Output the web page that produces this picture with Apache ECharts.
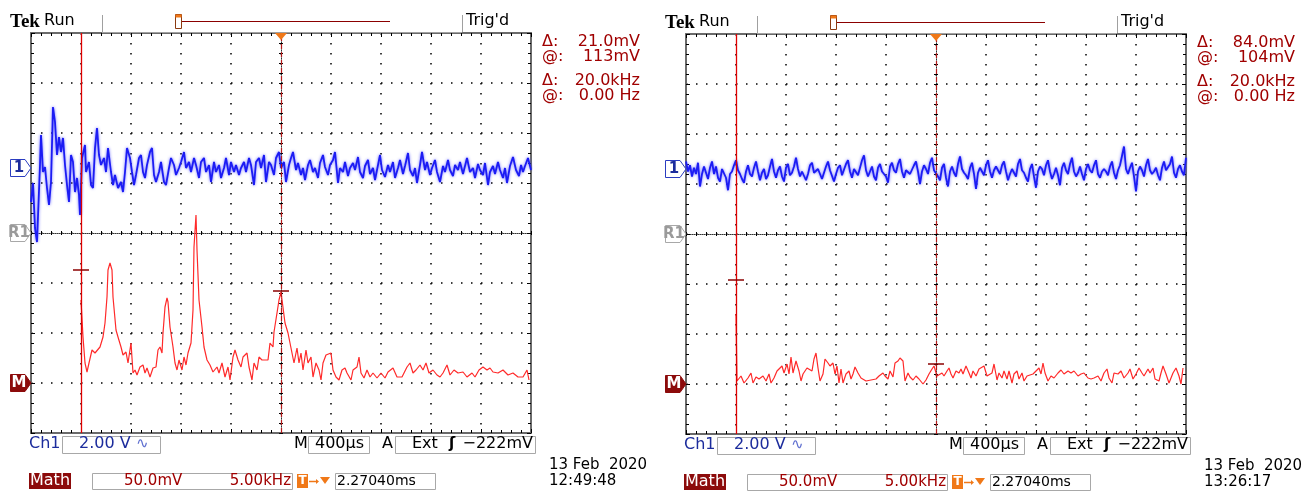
<!DOCTYPE html>
<html><head><meta charset="utf-8">
<script src="https://cdn.jsdelivr.net/npm/echarts@6/dist/echarts.min.js"></script>
<style>html,body{margin:0;padding:0;background:#fff}#c{width:1304px;height:493px}</style>
</head><body><div id="c"></div>
<script>
// ---------- DATA ----------
// Ch1 (2.00 V/div) left screen: [time µs, volts]
const blueLeft = [[0,-1.36],[16,-0.60],[32,-2.40],[48,-2.96],[72,0.12],[80,1.32],[96,-0.16],[112,0.04],[128,-0.80],[144,-1.48],[160,-0.56],[176,2.44],[192,1.84],[208,0.52],[224,1.24],[240,0.64],[256,1.20],[272,0.12],[288,-0.68],[304,-1.36],[320,0.52],[336,0.24],[352,-0.96],[368,-0.40],[384,-1.08],[392,-1.88],[408,0.40],[432,0.92],[440,-0.16],[464,0.24],[480,-0.68],[496,-0.80],[512,0.80],[528,1.60],[544,0.52],[560,0.12],[584,0.40],[600,-0.16],[616,0.80],[640,-0.16],[656,-0.68],[672,-0.28],[696,-0.80],[720,-0.56],[736,-0.96],[752,-0.16],[768,0.80],[792,0.40],[808,-0.16],[824,-0.68],[840,-0.28],[864,0.40],[880,0.52],[896,-0.16],[912,-0.40],[928,0.12],[952,0.64],[968,0.80],[984,-0.28],[1000,-0.56],[1024,-0.16],[1040,0.24],[1064,-0.56],[1080,-0.68],[1104,0.00],[1120,0.40],[1144,0.12],[1160,-0.28],[1184,0.00],[1200,0.24],[1224,0.64],[1240,0.00],[1264,0.24],[1280,-0.16],[1304,0.40],[1320,0.12],[1344,-0.40],[1360,0.24],[1384,0.40],[1400,-0.16],[1424,0.12],[1440,-0.56],[1464,0.24],[1480,-0.16],[1504,0.12],[1520,-0.40],[1544,0.00],[1560,0.40],[1584,-0.28],[1600,0.24],[1624,-0.16],[1640,0.12],[1664,-0.28],[1680,0.00],[1704,0.24],[1720,-0.16],[1744,0.40],[1760,0.12],[1784,-0.68],[1800,0.24],[1824,0.40],[1840,0.00],[1864,0.52],[1880,-0.56],[1904,0.24],[1920,0.12],[1944,-0.28],[1960,0.40],[1984,0.64],[2000,0.00],[2024,0.24],[2040,-0.56],[2064,0.12],[2080,0.40],[2096,0.64],[2120,-0.08],[2136,0.20],[2160,-0.28],[2176,0.00],[2192,-0.48],[2216,0.12],[2232,0.32],[2256,-0.16],[2272,0.00],[2296,-0.40],[2312,0.20],[2336,0.52],[2352,0.04],[2376,-0.28],[2392,0.12],[2416,0.32],[2432,0.64],[2456,-0.60],[2472,0.00],[2496,-0.16],[2512,0.24],[2536,-0.32],[2552,0.00],[2576,0.20],[2592,-0.08],[2616,0.44],[2632,-0.16],[2656,-0.40],[2672,0.08],[2696,0.32],[2712,-0.24],[2736,0.00],[2752,-0.48],[2776,0.12],[2792,0.52],[2808,-0.08],[2832,-0.36],[2856,0.12],[2872,-0.16],[2896,0.24],[2912,-0.40],[2936,0.00],[2952,0.32],[2976,-0.24],[2992,0.08],[3016,0.60],[3032,-0.08],[3056,-0.32],[3072,0.00],[3088,-0.60],[3112,0.12],[3128,0.64],[3152,-0.08],[3168,0.24],[3192,-0.28],[3208,0.00],[3232,0.32],[3248,-0.16],[3272,-0.56],[3296,0.08],[3312,-0.16],[3336,0.32],[3352,-0.08],[3376,-0.32],[3392,0.12],[3416,-0.08],[3432,0.24],[3456,-0.24],[3472,0.08],[3488,0.40],[3512,-0.16],[3536,0.00],[3552,-0.40],[3576,0.16],[3592,-0.08],[3616,-0.28],[3632,0.20],[3656,-0.68],[3672,-0.16],[3696,0.08],[3712,-0.24],[3736,0.24],[3752,-0.08],[3776,-0.40],[3792,0.00],[3808,-0.60],[3832,0.08],[3856,0.44],[3880,-0.08],[3904,-0.32],[3920,0.12],[3936,-0.16],[3952,0.08],[3976,0.40],[4000,-0.08]];

// Ch1 right screen: volts, one sample every blueRightStepUs
const blueRightStepUs = 16;
const blueRightV = [
0.30,-0.10,0.15,-0.30,0.05,-0.20,0.25,-0.70,-0.20,0.10,
-0.15,-0.40,0.05,0.30,-0.20,0.10,-0.35,-0.50,0.00,0.05,
-0.35,-0.85,-0.20,-0.10,0.15,0.35,-0.05,-0.20,-0.40,-0.55,
-0.10,0.15,-0.20,-0.30,0.05,0.30,-0.10,-0.45,-0.15,0.00,
-0.40,-0.25,0.10,0.40,-0.10,-0.35,-0.05,0.10,-0.30,-0.50,
0.05,0.20,-0.25,-0.15,0.10,0.45,0.00,-0.30,-0.10,-0.05,
-0.45,-0.20,0.15,0.25,-0.15,-0.20,0.00,0.05,-0.40,-0.35,
0.10,0.30,-0.05,-0.10,-0.50,-0.20,0.05,0.15,-0.25,-0.25,
0.20,0.35,-0.10,-0.35,0.00,0.05,-0.25,-0.20,0.35,0.55,
-0.05,-0.30,-0.10,0.10,-0.30,-0.45,0.05,0.20,-0.10,-0.10,
-0.30,-0.55,0.10,0.25,-0.05,-0.15,0.20,0.40,-0.10,-0.35,
-0.05,0.00,-0.20,-0.25,0.15,0.30,-0.10,-0.60,-0.10,0.15,
0.00,-0.20,0.25,0.45,-0.05,-0.10,-0.30,-0.45,0.05,0.20,
-0.35,-0.70,-0.10,0.10,-0.15,-0.30,0.20,0.50,0.00,-0.15,
-0.25,-0.40,0.05,0.25,-0.20,-0.80,-0.15,0.05,0.00,-0.25,
0.15,0.35,-0.10,-0.35,-0.05,0.10,0.05,-0.20,0.15,0.30,
-0.10,-0.45,-0.20,0.00,-0.05,-0.30,0.20,0.40,-0.05,-0.15,
-0.35,-0.50,0.00,0.20,-0.30,-0.75,-0.10,0.10,0.00,-0.25,
0.15,0.35,-0.10,-0.40,-0.20,0.05,-0.25,-0.65,0.05,0.25,
-0.05,-0.20,0.20,0.45,-0.10,-0.30,-0.15,0.10,-0.20,-0.45,
0.00,0.20,-0.05,-0.15,0.15,0.35,-0.20,-0.35,-0.10,0.00,
-0.10,-0.25,0.10,0.30,-0.15,-0.40,-0.05,0.15,0.10,0.90,
0.00,-0.20,0.05,0.25,-0.30,-0.90,-0.10,0.10,-0.05,-0.30,
0.15,0.40,-0.05,-0.20,-0.10,0.05,-0.25,-0.45,0.05,0.30,
-0.05,-0.10,0.20,0.50,-0.15,-0.35,0.00,0.15,-0.10,-0.25,
0.45];

// Math FFT (50.0 mV/div, 5.00 kHz/div): [kHz, mV]
const redLeft = [[0,83],[0.2,46],[0.4,20],[0.6,11],[0.8,20],[1.1,33],[1.4,30],[1.6,30],[1.9,36],[2.2,46],[2.4,60],[2.6,86],[2.7,113],[2.9,120],[3.1,113],[3.2,86],[3.5,53],[3.7,46],[4.0,36],[4.2,28],[4.5,31],[4.7,20],[5.0,40],[5.2,10],[5.4,13],[5.6,8],[5.9,16],[6.2,18],[6.4,10],[6.6,15],[6.9,6],[7.2,15],[7.5,16],[7.7,33],[7.9,36],[8.1,30],[8.2,50],[8.4,76],[8.6,85],[8.7,81],[8.9,56],[9.2,36],[9.4,20],[9.6,13],[9.8,23],[10.1,13],[10.3,26],[10.5,18],[10.7,30],[11.0,40],[11.2,73],[11.3,136],[11.5,168],[11.6,133],[11.8,83],[12.1,56],[12.3,36],[12.6,23],[12.9,18],[13.2,11],[13.6,16],[13.8,10],[14.1,20],[14.4,6],[14.7,16],[14.9,3],[15.2,26],[15.4,33],[15.7,23],[16.0,16],[16.2,26],[16.6,30],[16.8,16],[17.1,3],[17.3,20],[17.6,13],[17.8,26],[18.1,23],[18.4,23],[18.7,23],[18.9,40],[19.2,36],[19.3,51],[19.6,70],[19.8,83],[20.0,91],[20.2,90],[20.4,60],[20.7,50],[20.9,40],[21.1,30],[21.3,20],[21.6,35],[21.8,20],[22.0,30],[22.2,13],[22.5,33],[22.7,20],[23.0,26],[23.2,6],[23.5,20],[23.8,13],[24.0,3],[24.2,20],[24.5,28],[24.7,26],[25.0,30],[25.2,13],[25.5,6],[25.8,3],[26.1,13],[26.4,15],[26.6,10],[27.0,3],[27.2,13],[27.6,16],[27.8,26],[28.0,10],[28.3,5],[28.6,13],[28.9,6],[29.2,10],[29.6,5],[30.0,10],[30.4,5],[30.7,11],[31.2,15],[31.6,6],[32.1,6],[32.6,16],[32.9,20],[33.2,10],[33.5,13],[33.9,18],[34.2,13],[34.5,20],[34.8,10],[35.2,13],[35.6,8],[35.9,6],[36.2,10],[36.6,18],[36.9,8],[37.3,13],[37.7,10],[38.2,11],[38.6,6],[39.1,10],[39.4,6],[39.8,13],[40.2,16],[40.6,13],[40.9,15],[41.2,11],[41.7,10],[42.2,13],[42.7,8],[43.2,10],[43.7,6],[44.2,6],[44.6,13],[44.8,3]];

const redRight = [[0,70],[0.1,3],[0.3,3],[0.5,8],[0.8,1],[1.2,6],[1.5,11],[1.7,1],[2.0,7],[2.3,5],[2.7,8],[3.0,3],[3.3,10],[3.5,1],[3.8,6],[4.1,13],[4.3,15],[4.6,18],[4.8,11],[5.1,20],[5.3,10],[5.5,27],[5.7,11],[6.0,23],[6.3,13],[6.5,3],[6.7,10],[7.1,16],[7.3,18],[7.6,13],[7.8,25],[8.0,31],[8.2,16],[8.4,3],[8.7,10],[8.9,25],[9.2,21],[9.4,18],[9.7,21],[9.9,10],[10.1,18],[10.3,1],[10.5,15],[10.7,1],[11.0,10],[11.3,13],[11.5,5],[11.7,10],[11.9,17],[12.2,11],[12.5,6],[13.0,3],[13.5,4],[14.0,5],[14.3,8],[14.7,11],[14.9,8],[15.2,5],[15.4,13],[15.7,7],[15.9,21],[16.2,23],[16.4,26],[16.6,28],[16.7,23],[16.9,3],[17.2,11],[17.4,7],[17.7,4],[18.0,8],[18.3,5],[18.7,0],[19.0,4],[19.3,10],[19.6,15],[19.8,18],[20.1,8],[20.3,6],[20.6,11],[20.8,8],[21.1,13],[21.3,16],[21.5,10],[21.7,6],[22.0,13],[22.3,11],[22.5,15],[22.7,10],[23.0,18],[23.3,11],[23.5,6],[23.7,13],[24.0,8],[24.3,15],[24.5,13],[24.8,18],[25.1,8],[25.3,6],[25.6,11],[25.8,20],[26.1,4],[26.3,11],[26.6,6],[26.8,13],[27.1,5],[27.3,13],[27.6,1],[27.8,10],[28.1,13],[28.3,5],[28.6,11],[28.8,3],[29.1,8],[29.3,6],[29.7,10],[30.0,13],[30.3,16],[30.5,10],[30.7,21],[30.9,11],[31.2,3],[31.5,8],[31.8,6],[32.2,11],[32.5,14],[32.8,10],[33.2,13],[33.5,11],[33.8,13],[34.2,8],[34.5,10],[34.8,11],[35.2,6],[35.5,5],[35.8,6],[36.2,8],[36.5,3],[36.8,11],[37.1,15],[37.3,6],[37.6,1],[37.8,11],[38.2,10],[38.5,13],[38.8,6],[39.2,11],[39.4,15],[39.7,5],[40.0,10],[40.3,16],[40.6,11],[40.8,8],[41.2,15],[41.4,11],[41.7,16],[41.9,5],[42.3,3],[42.5,11],[42.7,18],[43.0,10],[43.3,1],[43.5,6],[43.7,11],[44.0,16],[44.3,8],[44.5,0],[44.7,16]];

// cursors: vertical (kHz) and horizontal (mV)
const cursorFreqKHz = [0, 20];
const cursorLeftMv = [113, 92];
const cursorRightMv = [104, 20];
const readoutLeft = ['21.0mV', '113mV', '20.0kHz', '0.00 Hz'];
const readoutRight = ['84.0mV', '104mV', '20.0kHz', '0.00 Hz'];
const clockLeft = '12:49:48';
const clockRight = '13:26:17';
const dateText = '13 Feb  2020';
const triggerUs = 2000;

// ---------- LAYOUT ----------
const chart = echarts.init(document.getElementById('c'), null, {renderer: 'canvas'});
const GX = 31, GY = 33, GW = 500, GH = 400;
const panels = [
  {dx: 0, dy: 0, blue: blueLeft, red: redLeft, cmv: cursorLeftMv, readout: readoutLeft, clock: clockLeft},
  {dx: 655, dy: 1, blue: blueRightV.map((v, k) => [k * blueRightStepUs, v]), red: redRight, cmv: cursorRightMv, readout: readoutRight, clock: clockRight}
];
const grids = [], xAxes = [], yAxes = [], series = [];
const hidden = {show: false};
const borderLine = {show: true, onZero: false, lineStyle: {color: '#6a6a6a', width: 2}};
const dotGrid = {show: true, lineStyle: {color: '#000', width: 1.5, type: [1.5, 8.5]}};
const centerLine = {show: true, onZero: false, lineStyle: {color: '#333', width: 1, type: [1, 1]}};
panels.forEach((p, i) => {
  grids.push({left: GX + p.dx, top: GY + p.dy, width: GW, height: GH, show: false});
  const tb = {gridIndex: i, type: 'value', min: 0, max: 4000, interval: 400, axisLabel: hidden};
  const mb = {gridIndex: i, type: 'value', min: -50, max: 350, interval: 50, axisLabel: hidden};
  const inTick = {show: true, inside: true, length: 4, lineStyle: {color: '#000'}};
  const inMinor = {show: true, splitNumber: 5, length: 3, lineStyle: {color: '#000'}};
  const outTick = {show: true, inside: false, length: 2, lineStyle: {color: '#000'}};
  const outMinor = {show: true, splitNumber: 5, length: 2, lineStyle: {color: '#000'}};
  xAxes.push(Object.assign({}, tb, {position: 'bottom', axisLine: borderLine, axisTick: inTick, minorTick: inMinor, splitLine: dotGrid}));
  xAxes.push(Object.assign({}, tb, {position: 'top', axisLine: borderLine, axisTick: inTick, minorTick: inMinor, splitLine: hidden}));
  xAxes.push(Object.assign({}, tb, {position: 'top', offset: -GH / 2, axisLine: centerLine, axisTick: outTick, minorTick: outMinor, splitLine: hidden}));
  xAxes.push(Object.assign({}, tb, {position: 'bottom', offset: -GH / 2, axisLine: {show: false, onZero: false}, axisTick: outTick, minorTick: outMinor, splitLine: hidden}));
  xAxes.push({gridIndex: i, type: 'value', min: -5, max: 45, show: false, axisLine: {onZero: false}});
  yAxes.push(Object.assign({}, mb, {position: 'left', axisLine: borderLine, axisTick: inTick, minorTick: inMinor, splitLine: dotGrid}));
  yAxes.push(Object.assign({}, mb, {position: 'right', axisLine: borderLine, axisTick: inTick, minorTick: inMinor, splitLine: hidden}));
  yAxes.push(Object.assign({}, mb, {position: 'left', offset: -GW / 2, axisLine: centerLine, axisTick: outTick, minorTick: outMinor, splitLine: hidden}));
  yAxes.push(Object.assign({}, mb, {position: 'right', offset: -GW / 2, axisLine: {show: false, onZero: false}, axisTick: outTick, minorTick: outMinor, splitLine: hidden}));
  yAxes.push({gridIndex: i, type: 'value', min: -10.6, max: 5.4, show: false, axisLine: {onZero: false}});
  const b = i * 5;
  series.push({type: 'line', xAxisIndex: b, yAxisIndex: b + 4, data: p.blue, symbol: 'none', animation: false, silent: true, z: 3,
    lineStyle: {color: '#1c1cf4', width: 1.8, shadowBlur: 3, shadowColor: 'rgba(80,80,255,0.85)'}});
  const hw = 0.8;
  series.push({type: 'line', xAxisIndex: b + 4, yAxisIndex: b, data: p.red, symbol: 'none', animation: false, silent: true, z: 4,
    lineStyle: {color: '#ff2a2a', width: 1.2},
    markLine: {silent: true, symbol: 'none', animation: false, z: 6, label: {show: false}, emphasis: {disabled: true},
      data: [
        {xAxis: cursorFreqKHz[0], lineStyle: {color: '#e00000', width: 1.3, type: 'solid'}},
        {xAxis: cursorFreqKHz[1], lineStyle: {color: '#b41a1a', width: 1.2, type: [5, 3]}},
        [{coord: [cursorFreqKHz[0] - hw, p.cmv[0]], lineStyle: {color: '#8b0000', width: 1.5, type: 'solid'}}, {coord: [cursorFreqKHz[0] + hw, p.cmv[0]]}],
        [{coord: [cursorFreqKHz[1] - hw, p.cmv[1]], lineStyle: {color: '#8b0000', width: 1.5, type: 'solid'}}, {coord: [cursorFreqKHz[1] + hw, p.cmv[1]]}]
      ]}});
});
chart.setOption({animation: false, backgroundColor: '#fff', grid: grids, xAxis: xAxes, yAxis: yAxes, series: series});

// ---------- TEXT / DECORATIONS ----------
const F = '"DejaVu Sans"';
const DRED = '#a00000', BLUE = '#1c2c9c', ORANGE = '#f07818';
const g = [];
function txt(x, y, s, fill, font, align) {
  g.push({type: 'text', silent: true, z: 20, x: x, y: y, style: {text: s, fill: fill, font: font, textAlign: align || 'left', align: align || 'left', textVerticalAlign: 'middle', verticalAlign: 'middle'}});
}
function line(x1, y1, x2, y2, stroke, w) {
  g.push({type: 'line', silent: true, z: 20, shape: {x1: x1, y1: y1, x2: x2, y2: y2}, style: {stroke: stroke, lineWidth: w || 1}});
}
function rect(x, y, w, h, fill, stroke) {
  g.push({type: 'rect', silent: true, z: 19, shape: {x: x, y: y, width: w, height: h}, style: {fill: fill || 'none', stroke: stroke || 'none', lineWidth: 1}});
}
function poly(pts, fill, stroke) {
  g.push({type: 'polygon', silent: true, z: 20, shape: {points: pts}, style: {fill: fill, stroke: stroke || 'none', lineWidth: 1}});
}
function marker(x0, y, label, fill, stroke, color) {
  poly([[x0 + 10.5, y - 8.5], [x0 + 25, y - 8.5], [x0 + 31, y], [x0 + 25, y + 8.5], [x0 + 10.5, y + 8.5]], fill, stroke);
  g.push({type: 'text', silent: true, z: 21, x: x0 + 19, y: y + 0.5, style: {text: label, fill: color, font: 'bold 15px ' + F, textAlign: 'center', align: 'center', textVerticalAlign: 'middle', verticalAlign: 'middle'}});
}
panels.forEach((p, i) => {
  const b = i * 5;
  const yVolt0 = chart.convertToPixel({yAxisIndex: b + 4}, 0);
  const yRef = chart.convertToPixel({yAxisIndex: b}, 150);
  const yMath0 = chart.convertToPixel({yAxisIndex: b}, 0);
  const xTrig = chart.convertToPixel({xAxisIndex: b}, triggerUs);
  const gTop = GY + p.dy;
  const X = p.dx, Y = p.dy;
  marker(X, yVolt0, '1', '#fff', '#2a3cc0', '#1c2c9c');
  marker(X, yRef, 'R1', '#fff', '#a8a8a8', '#9a9a9a');
  marker(X, yMath0, 'M', '#8c0b0b', '#8c0b0b', '#fff');
  // trigger position marker
  poly([[xTrig - 6, gTop], [xTrig + 6, gTop], [xTrig, gTop + 7]], ORANGE);
  // header
  txt(X + 10, Y + 22, 'Tek', '#000', 'bold 19px "Liberation Serif"');
  txt(X + 44, Y + 21, 'Run', '#000', '16px ' + F);
  line(X + 102.5, Y + 15, X + 102.5, Y + 32, '#a0a0a0');
  line(X + 102, Y + 32.5, X + 462, Y + 32.5, '#a0a0a0');
  line(X + 462.5, Y + 15, X + 462.5, Y + 32, '#a0a0a0');
  txt(X + 466, Y + 21, "Trig'd", '#000', '16px ' + F);
  line(X + 182, Y + 21.5, X + 390, Y + 21.5, '#8b0000', 1.2);
  rect(X + 175.5, Y + 14.5, 6, 14, '#fff', '#8b3a10');
  rect(X + 175.5, Y + 14.5, 6, 3, ORANGE, null);
  // readouts
  const ry = [42, 57, 81, 96];
  const rl = ['\u0394:', '@:', '\u0394:', '@:'];
  ry.forEach((yy, k) => {
    txt(X + 542, Y + yy, rl[k], DRED, '16px ' + F);
    txt(X + 640, Y + yy, p.readout[k], DRED, '16px ' + F, 'right');
  });
  // bottom line 1
  txt(X + 29, Y + 444, 'Ch1', BLUE, '16px ' + F);
  rect(X + 62.5, Y + 436.5, 98, 17, null, '#a8a8a8');
  txt(X + 79, Y + 444, '2.00 V', BLUE, '16px ' + F);
  txt(X + 136, Y + 444, '\u223F', '#6070d0', '15px ' + F);
  txt(X + 294, Y + 444, 'M', '#000', '16px ' + F);
  rect(X + 308.5, Y + 436.5, 61, 17, null, '#a8a8a8');
  txt(X + 315, Y + 444, '400\u00B5s', '#000', '16px ' + F);
  txt(X + 382, Y + 444, 'A', '#000', '16px ' + F);
  rect(X + 395.5, Y + 436.5, 140, 17, null, '#a8a8a8');
  txt(X + 412, Y + 444, 'Ext', '#000', '16px ' + F);
  txt(X + 449, Y + 444, '\u0283', '#000', 'bold 15px ' + F);
  txt(X + 533, Y + 444, '\u2212222mV', '#000', '16px ' + F, 'right');
  // bottom line 2
  rect(X + 29, Y + 473, 42, 16, '#8c0b0b', null);
  txt(X + 30, Y + 481, 'Math', '#fff', '16px ' + F);
  rect(X + 92.5, Y + 473.5, 200, 16, null, '#a8a8a8');
  txt(X + 124, Y + 481, '50.0mV', DRED, '15px ' + F);
  txt(X + 291, Y + 481, '5.00kHz', DRED, '15px ' + F, 'right');
  rect(X + 297, Y + 474, 11, 14, ORANGE, null);
  txt(X + 302.5, Y + 481, 'T', '#fff', 'bold 12px ' + F, 'center');
  line(X + 309, Y + 481.5, X + 316, Y + 481.5, ORANGE, 1.5);
  poly([[X + 316, Y + 479], [X + 319, Y + 481.5], [X + 316, Y + 484]], ORANGE);
  poly([[X + 320, Y + 477], [X + 330, Y + 477], [X + 325, Y + 484]], ORANGE);
  rect(X + 335.5, Y + 473.5, 100, 16, null, '#a8a8a8');
  txt(X + 337, Y + 481, '2.27040ms', '#000', '14px ' + F);
  txt(X + 549, Y + 465, dateText, '#000', '15px ' + F);
  txt(X + 549, Y + 481, p.clock, '#000', '15px ' + F);
});
chart.setOption({graphic: {elements: g}});
</script></body></html>
